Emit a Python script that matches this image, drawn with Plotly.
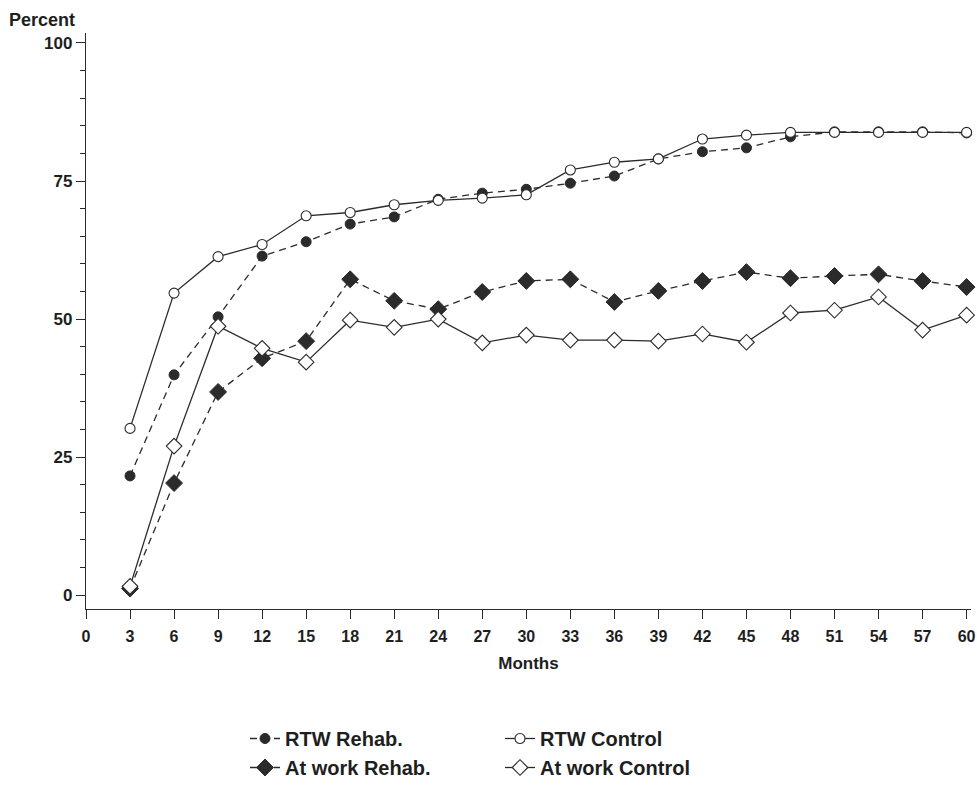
import plotly.graph_objects as go

months = [3, 6, 9, 12, 15, 18, 21, 24, 27, 30, 33, 36, 39, 42, 45, 48, 51, 54, 57, 60]
rtw_rehab = [21.6, 39.9, 50.4, 61.4, 64.0, 67.2, 68.5, 71.7, 72.8, 73.5, 74.6, 75.9,
             79.0, 80.3, 81.0, 83.0, 83.9, 83.9, 83.9, 83.7]
rtw_control = [30.2, 54.7, 61.3, 63.5, 68.7, 69.3, 70.7, 71.5, 71.9, 72.5, 77.0, 78.4,
               79.0, 82.6, 83.3, 83.8, 83.8, 83.8, 83.8, 83.8]
atwork_rehab = [1.2, 20.3, 36.8, 42.9, 46.0, 57.2, 53.3, 51.8, 54.9, 56.9, 57.2, 53.1,
                55.1, 56.9, 58.5, 57.4, 57.8, 58.1, 56.9, 55.8]
atwork_control = [1.6, 27.0, 48.7, 44.7, 42.2, 49.8, 48.5, 50.0, 45.7, 47.1, 46.2, 46.2,
                  46.0, 47.3, 45.8, 51.1, 51.6, 54.0, 48.0, 50.7]
x_ticks = list(range(0, 61, 3))
y_ticks = [0, 25, 50, 75, 100]

INK = "#2b2b2b"
TXT = "#1e1e1e"
FONT = "Liberation Sans, Arial, sans-serif"
DASH = "7px,5px"

fig = go.Figure()
fig.add_trace(go.Scatter(
    x=months, y=rtw_rehab, name="RTW Rehab.", mode="lines+markers", cliponaxis=False,
    line=dict(color=INK, width=1.3, dash=DASH),
    marker=dict(symbol="circle", size=10, color=INK, line=dict(color=INK, width=1)),
    legend="legend"))
fig.add_trace(go.Scatter(
    x=months, y=atwork_rehab, name="At work Rehab.", mode="lines+markers", cliponaxis=False,
    line=dict(color=INK, width=1.3, dash=DASH),
    marker=dict(symbol="diamond", size=13, color=INK, line=dict(color=INK, width=1)),
    legend="legend"))
fig.add_trace(go.Scatter(
    x=months, y=rtw_control, name="RTW Control", mode="lines+markers", cliponaxis=False,
    line=dict(color=INK, width=1.3),
    marker=dict(symbol="circle", size=10, color="white", line=dict(color=INK, width=1.1)),
    legend="legend2"))
fig.add_trace(go.Scatter(
    x=months, y=atwork_control, name="At work Control", mode="lines+markers", cliponaxis=False,
    line=dict(color=INK, width=1.3),
    marker=dict(symbol="diamond", size=12, color="white", line=dict(color=INK, width=1.1)),
    legend="legend2"))

W, H = 977, 785
L, R, T, B = 86, 6, 33, 176
PW, PH = W - L - R, H - T - B

legend_font = dict(family=FONT, size=20, color=TXT, weight="bold")
fig.update_layout(
    width=W, height=H,
    margin=dict(l=L, r=R, t=T, b=B, autoexpand=False),
    paper_bgcolor="white", plot_bgcolor="white",
    font=dict(family=FONT, color=TXT),
    title=dict(text="Percent", x=9 / W, xref="container", xanchor="left",
               y=1 - 20 / H, yref="container", yanchor="middle",
               font=dict(family=FONT, size=18, color=TXT, weight="bold")),
    xaxis=dict(range=[0, 60.3], tickvals=x_ticks, ticks="outside", ticklen=9,
               tickwidth=1.2, tickcolor=INK, showline=True, linecolor=INK, linewidth=1.3,
               showgrid=False, zeroline=False, ticklabelstandoff=4,
               tickfont=dict(family=FONT, size=16, color=TXT, weight="bold"),
               title=dict(text="Months", standoff=12,
                          font=dict(family=FONT, size=17, color=TXT, weight="bold"))),
    yaxis=dict(range=[-2.5, 101.8], tickvals=y_ticks, ticks="outside", ticklen=9,
               tickwidth=1.2, tickcolor=INK, showline=True, linecolor=INK, linewidth=1.3,
               showgrid=False, zeroline=False,
               minor=dict(dtick=5, ticks="outside", ticklen=5, tickwidth=1, tickcolor=INK),
               tickfont=dict(family=FONT, size=17, color=TXT, weight="bold")),
    legend=dict(orientation="v", x=(245 - L) / PW, xanchor="left",
                y=(H - B - 719) / PH, yanchor="top", font=legend_font,
                bgcolor="rgba(0,0,0,0)", tracegroupgap=0),
    legend2=dict(orientation="v", x=(500 - L) / PW, xanchor="left",
                 y=(H - B - 719) / PH, yanchor="top", font=legend_font,
                 bgcolor="rgba(0,0,0,0)", tracegroupgap=0),
    showlegend=True,
)

fig.write_html("out.html", config={"displayModeBar": False},
               post_script="document.body.style.margin='0px';")
